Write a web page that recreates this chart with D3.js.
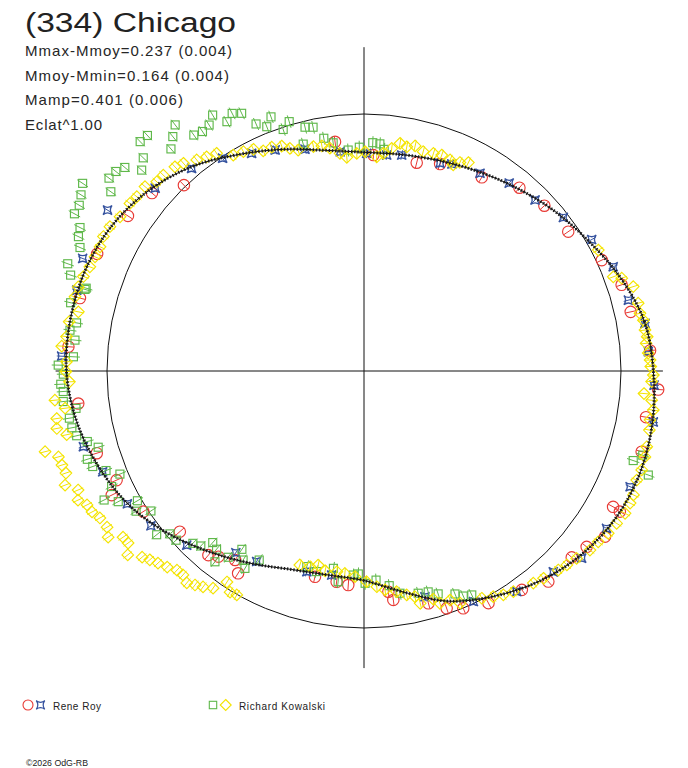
<!DOCTYPE html>
<html>
<head>
<meta charset="utf-8">
<script src="https://cdn.jsdelivr.net/npm/d3@7"></script>
<style>
  body { margin: 0; background: #fff; }
  svg { display: block; font-family: "Liberation Sans", Arial, sans-serif; }
</style>
</head>
<body>
<svg id="chart" width="688" height="768"></svg>
<script>
// polar lightcurve: angle in degrees (0 = right, counter-clockwise),
// radius relative to mean flux (the reference circle = 1)

const title = "(334) Chicago";
const statLines = ["Mmax-Mmoy=0.237 (0.004)", "Mmoy-Mmin=0.164 (0.004)", "Mamp=0.401 (0.006)", "Eclat^1.00"];
const observers = ["Rene Roy", "Richard Kowalski"];

// fitted model
const modelAngles = [0, 10, 20, 30, 40, 50, 60, 70, 80, 90, 100, 110, 120, 130, 140, 150, 160, 170,
  180, 190, 200, 210, 220, 230, 240, 250, 260, 270, 280, 290, 300, 310, 320, 330, 340, 350];
const modelRadius = [1.126, 1.108, 1.062, 1.010, 0.968, 0.928, 0.895, 0.870, 0.855, 0.851, 0.872, 0.918,
  0.973, 1.039, 1.093, 1.132, 1.153, 1.160, 1.158, 1.135, 1.097, 1.051, 0.988, 0.922, 0.866, 0.822,
  0.806, 0.815, 0.873, 0.953, 1.012, 1.066, 1.108, 1.135, 1.145, 1.140];

// Rene Roy, session 1 (red circles)
const royCircles = [[134.1,1.007],[140.0,1.077],[146.7,1.099],[156.3,1.134],[165.6,1.141],[175.3,1.154],
  [186.5,1.119],[197.1,1.088],[203.8,1.052],[206.2,1.094],[212.5,1.018],[221.1,0.951],[229.8,0.938],
  [231.9,0.918],[235.7,0.890],[238.1,0.927],[256.6,0.823],[262.6,0.827],[265.8,0.835],[276.3,0.864],
  [277.3,0.898],[285.5,0.938],[289.2,0.978],[292.7,1.001],[298.2,1.025],[305.8,1.050],[311.2,1.089],
  [318.1,1.086],[321.7,1.104],[325.5,1.138],[331.2,1.136],[331.4,1.104],[343.8,1.125],[350.7,1.112],
  [356.4,1.147],[4.1,1.116],[12.5,1.063],[18.5,1.057],[25.0,1.021],[34.3,0.962],[42.5,0.952],
  [49.7,0.935],[58.7,0.882],[69.8,0.858],[75.8,0.836],[87.5,0.841],[97.2,0.899]];

// Rene Roy, session 2 (blue stars)
const royStars = [[123.6,0.994],[130.4,1.035],[138.8,1.080],[147.9,1.178],[158.2,1.179],[164.3,1.161],
  [177.2,1.178],[195.1,1.131],[201.1,1.090],[209.3,1.056],[216.0,1.025],[224.5,0.967],[234.8,0.865],
  [240.6,0.851],[254.1,0.812],[261.0,0.804],[285.1,0.910],[295.4,0.993],[304.7,1.044],[313.3,1.074],
  [319.3,1.117],[327.0,1.125],[336.5,1.129],[350.0,1.143],[357.2,1.130],[3.9,1.109],[9.6,1.109],
  [15.0,1.065],[22.7,1.051],[30.0,1.023],[37.6,0.979],[45.0,0.941],[52.3,0.924],[59.6,0.892],
  [67.0,0.875],[69.9,0.861],[80.1,0.853],[84.0,0.845],[89.3,0.847],[96.2,0.858],[104.9,0.893],
  [111.9,0.927],[117.3,0.953]];

// Richard Kowalski, session 1 (green squares)
const kowSquares = [[110.1,1.053],[111.7,1.023],[113.6,1.049],[115.4,1.110],[117.1,1.126],[118.8,1.107],
  [120.6,1.157],[122.2,1.131],[124.0,1.124],[125.8,1.132],[127.5,1.207],[129.2,1.177],[131.0,1.145],
  [132.6,1.245],[134.3,1.247],[136.0,1.194],[137.9,1.166],[139.6,1.222],[141.2,1.239],[142.9,1.244],
  [144.7,1.207],[146.3,1.316],[148.1,1.297],[149.8,1.282],[151.5,1.282],[153.2,1.238],[154.8,1.228],
  [156.5,1.205],[160.1,1.226],[161.9,1.201],
  [84.8,0.866],[86.0,0.886],[87.8,0.889],[91.2,0.871],[94.1,0.862],[97.7,0.896],[99.8,0.919],
  [101.8,0.969],[103.6,0.976],[105.0,0.914],[106.7,1.013],[108.5,0.991],
  [163.4,1.128],[163.7,1.131],[166.9,1.172],[170.5,1.134],[172.1,1.155],[173.9,1.131],[177.2,1.132],
  [178.9,1.190],[180.6,1.170],[182.5,1.181],[183.9,1.173],[185.8,1.176],[187.4,1.130],[189.1,1.161],
  [191.0,1.158],[192.7,1.146],[194.3,1.111],[196.0,1.076],[197.7,1.130],[199.4,1.119],[201.1,1.076],
  [202.9,1.031],[204.6,1.080],[206.4,1.129],[208.0,1.083],[209.8,1.016],[211.6,1.041],[213.3,0.992],
  [218.3,1.028],[220.0,0.986],[222.0,0.984],[225.2,0.945],[227.0,0.931],[228.6,0.890],[230.4,0.900],
  [232.0,0.942],[233.9,0.897],[235.6,0.841],[237.4,0.873],[238.9,0.897],[241.0,0.841],
  [253.7,0.793],[256.7,0.802],[261.2,0.777],[263.0,0.826],[267.0,0.795],[268.4,0.790],[270.3,0.826],
  [273.3,0.815],[276.7,0.841],[279.2,0.876],[283.7,0.890],[286.2,0.895],[288.4,0.914],[292.2,0.937],
  [293.8,0.957],[295.7,0.967],
  [339.9,1.178],[341.6,1.104],[343.2,1.133]];

// Richard Kowalski, session 2 (yellow diamonds)
const kowDiamonds = [[63.4,0.907],[65.3,0.893],[66.6,0.874],[67.8,0.887],[70.2,0.893],[72.3,0.889],
  [74.9,0.884],[77.2,0.898],[79.2,0.888],[81.0,0.897],[82.9,0.873],[84.9,0.850],[86.6,0.835],
  [89.7,0.853],[91.9,0.847],[94.6,0.834],[96.3,0.852],[98.7,0.877],[100.6,0.891],[102.7,0.895],
  [106.6,0.897],[108.4,0.913],[110.1,0.932],[112.4,0.942],[114.6,0.942],[116.5,0.964],[118.8,0.974],
  [121.2,0.982],[124.1,1.023],[126.3,1.034],[128.4,1.048],[131.0,1.071],[132.8,1.083],[135.7,1.091],
  [137.6,1.092],[139.9,1.114],[142.5,1.114],[144.4,1.120],[147.7,1.123],[150.4,1.137],[152.7,1.141],
  [154.8,1.135],[157.0,1.137],[159.2,1.141],[161.4,1.152],[163.6,1.159],[165.6,1.161],[168.3,1.135],
  [170.5,1.163],[173.4,1.165],[175.3,1.180],[178.2,1.158],[180.1,1.160],[182.1,1.147],[185.4,1.208],
  [187.1,1.172],[188.8,1.210],[190.6,1.216],[192.1,1.183],[194.2,1.280],[195.7,1.235],[197.3,1.231],
  [198.9,1.226],[200.9,1.245],[202.6,1.205],[204.3,1.221],[205.8,1.197],[207.4,1.192],[209.1,1.176],
  [211.3,1.170],[213.0,1.187],[214.6,1.139],[216.1,1.136],[217.9,1.165],[220.0,1.127],[221.4,1.111],
  [223.0,1.096],[224.9,1.081],[226.8,1.063],[228.4,1.061],[230.1,1.075],[231.7,1.061],[233.3,1.048],
  [235.2,1.029],[237.0,0.979],[238.8,1.006],[240.4,1.002],
  [251.7,0.795],[254.6,0.790],[256.7,0.776],[259.0,0.792],[262.3,0.788],[264.6,0.791],[267.5,0.801],
  [270.7,0.820],[273.4,0.841],[275.5,0.856],[278.4,0.868],[280.8,0.887],[282.7,0.900],[283.6,0.930],
  [286.9,0.928],[288.1,0.951],[290.6,0.952],[292.5,0.978],[297.4,0.996],[299.8,1.012],[301.9,1.026],
  [304.1,1.037],[308.6,1.056],[310.9,1.067],[314.3,1.082],[316.3,1.092],[318.6,1.103],[321.6,1.122],
  [323.9,1.128],[326.4,1.141],[328.9,1.148],[331.4,1.157],[333.6,1.156],[335.3,1.154],[338.2,1.143],
  [340.4,1.147],[343.0,1.143],[345.0,1.139],[348.3,1.134],[350.3,1.129],[352.3,1.136],[354.2,1.125],
  [355.4,1.093],[357.9,1.120],[359.2,1.126],[0.9,1.116],[2.2,1.114],[3.6,1.108],[5.6,1.103],
  [6.9,1.110],[8.3,1.105],[10.3,1.105],[11.8,1.097],[13.9,1.099],[17.4,1.098],[19.8,1.066],
  [20.7,1.037],[27.3,1.026]];

const svg = d3.select("#chart");
const cx = 364, cy = 371;

const rScale = d3.scaleLinear().domain([0, 1]).range([0, 257]);
const aScale = d3.scaleLinear().domain([0, 360]).range([0, 2 * Math.PI]);

const colors = { red: "#e83a35", blue: "#36539f", green: "#5fb84a", yellow: "#f4e400" };

const plot = svg.append("g").attr("transform", `translate(${cx},${cy})`);

// point at angle/radius, with optional pixel offset along the radius
function pos(d, dr = 0) {
  const r = rScale(d[1]) + dr, a = aScale(d[0]);
  return [r * Math.cos(a), -r * Math.sin(a)];
}

// axes + reference circle
plot.append("line").attr("x1", -rScale(1.2)).attr("x2", rScale(1.163)).attr("y1", 0).attr("y2", 0)
  .attr("stroke", "#111").attr("stroke-width", 1);
plot.append("line").attr("x1", 0).attr("x2", 0).attr("y1", -rScale(1.26)).attr("y2", rScale(1.156))
  .attr("stroke", "#111").attr("stroke-width", 1);
plot.append("circle").attr("r", rScale(1)).attr("fill", "none").attr("stroke", "#111").attr("stroke-width", 1);

function errorBars(g, data, half, color) {
  g.selectAll("line.err").data(data).join("line").attr("class", "err")
    .attr("x1", d => pos(d, -half)[0]).attr("y1", d => pos(d, -half)[1])
    .attr("x2", d => pos(d, half)[0]).attr("y2", d => pos(d, half)[1])
    .attr("stroke", color).attr("stroke-width", 1);
}

const starPath = s => `M${-s},${-s}Q0,${-s * 0.25} ${s},${-s}Q${s * 0.25},0 ${s},${s}Q0,${s * 0.25} ${-s},${s}Q${-s * 0.25},0 ${-s},${-s}Z`;

// red circles
const gRed = plot.append("g");
errorBars(gRed, royCircles, 5.5, colors.red);
gRed.selectAll("circle").data(royCircles).join("circle")
  .attr("cx", d => pos(d)[0]).attr("cy", d => pos(d)[1]).attr("r", 5.7)
  .attr("fill", "none").attr("stroke", colors.red).attr("stroke-width", 1.15);

// blue stars
const gBlue = plot.append("g");
errorBars(gBlue, royStars, 4.8, colors.blue);
gBlue.selectAll("path").data(royStars).join("path")
  .attr("transform", d => `translate(${pos(d)[0]},${pos(d)[1]})`)
  .attr("d", starPath(4.5)).attr("fill", "none").attr("stroke", colors.blue).attr("stroke-width", 1.3);

// green squares
const gGreen = plot.append("g");
errorBars(gGreen, kowSquares, 6.5, colors.green);
gGreen.selectAll("rect").data(kowSquares).join("rect")
  .attr("x", d => pos(d)[0] - 4).attr("y", d => pos(d)[1] - 4).attr("width", 8).attr("height", 8)
  .attr("fill", "none").attr("stroke", colors.green).attr("stroke-width", 1.15);

// yellow diamonds
const gYellow = plot.append("g");
errorBars(gYellow, kowDiamonds, 5.5, colors.yellow);
gYellow.selectAll("path").data(kowDiamonds).join("path")
  .attr("transform", d => `translate(${pos(d)[0]},${pos(d)[1]})`)
  .attr("d", "M0,-5.8L5.8,0L0,5.8L-5.8,0Z").attr("fill", "none")
  .attr("stroke", colors.yellow).attr("stroke-width", 1.15);

// model curve (thin line with beaded overlay)
const model = modelAngles.map((a, i) => [a, modelRadius[i]]);
const line = d3.lineRadial()
  .angle(d => Math.PI / 2 - aScale(d[0]))
  .radius(d => rScale(d[1]))
  .curve(d3.curveCatmullRomClosed);
plot.append("path").attr("d", line(model)).attr("fill", "none").attr("stroke", "#111").attr("stroke-width", 1);
plot.append("path").attr("d", line(model)).attr("fill", "none").attr("stroke", "#1a1a1a")
  .attr("stroke-width", 3).attr("stroke-dasharray", "1.4 1.8");

// title + stats
svg.append("text").attr("x", 25).attr("y", 32).attr("font-size", 27).attr("fill", "#222")
  .attr("textLength", 211).attr("lengthAdjust", "spacingAndGlyphs").text(title);
const statWidths = [207, 204, 158, 77];
svg.selectAll("text.stat").data(statLines).join("text").attr("class", "stat")
  .attr("x", 25).attr("y", (d, i) => 56 + i * 24.7).attr("font-size", 15).attr("fill", "#262626")
  .attr("textLength", (d, i) => statWidths[i]).text(d => d);

// legend
const leg = svg.append("g");
leg.append("circle").attr("cx", 28).attr("cy", 705).attr("r", 5).attr("fill", "none")
  .attr("stroke", colors.red).attr("stroke-width", 1.1);
leg.append("path").attr("transform", "translate(40.5,705)").attr("d", starPath(4.3))
  .attr("fill", "none").attr("stroke", colors.blue).attr("stroke-width", 1.2);
leg.append("rect").attr("x", 209.3).attr("y", 701.3).attr("width", 7.4).attr("height", 7.4)
  .attr("fill", "none").attr("stroke", colors.green).attr("stroke-width", 1.1);
leg.append("path").attr("transform", "translate(225.7,705)").attr("d", "M0,-5.5L5.5,0L0,5.5L-5.5,0Z")
  .attr("fill", "none").attr("stroke", colors.yellow).attr("stroke-width", 1.1);
leg.append("text").attr("x", 53).attr("y", 709.5).attr("font-size", 10).attr("fill", "#222")
  .attr("textLength", 48).text(observers[0]);
leg.append("text").attr("x", 239).attr("y", 709.5).attr("font-size", 10).attr("fill", "#222")
  .attr("textLength", 86).text(observers[1]);

svg.append("text").attr("x", 26).attr("y", 766).attr("font-size", 8.5).attr("fill", "#222")
  .attr("textLength", 62).attr("lengthAdjust", "spacingAndGlyphs").text("©2026 OdG-RB");
</script>
</body>
</html>
